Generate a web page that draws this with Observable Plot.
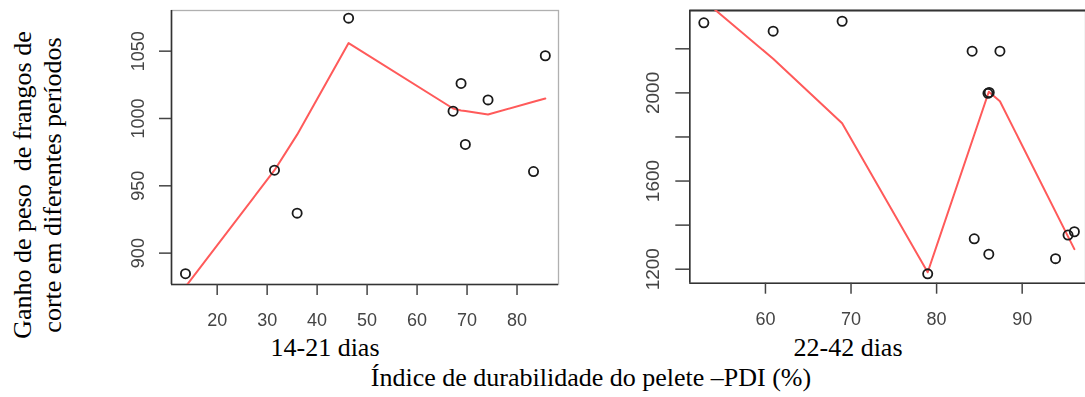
<!DOCTYPE html>
<html>
<head>
<meta charset="utf-8">
<script src="https://cdn.jsdelivr.net/npm/d3@7"></script>
<script src="https://cdn.jsdelivr.net/npm/@observablehq/plot@0.6"></script>
<style>
  body { margin: 0; background: #fff; width: 1085px; height: 397px; overflow: hidden; position: relative;
         font-family: "Liberation Serif", "Times New Roman", serif; }
  .panel { position: absolute; top: 0; }
  .panel svg { filter: blur(0.5px); }
  .cap { position: absolute; width: 500px; text-align: center; font-size: 26px; line-height: 30px;
         color: #000; white-space: pre; }
</style>
</head>
<body>
<div id="early" class="panel" style="left:100px"></div>
<div id="late" class="panel" style="left:620px"></div>
<div class="cap" style="left:-212px; top:155px; height:60px; transform:rotate(-90deg);">Ganho de peso  de frangos de
corte em diferentes períodos</div>
<div class="cap" style="left:75px; top:333px;">14-21 dias</div>
<div class="cap" style="left:598px; top:333px;">22-42 dias</div>
<div class="cap" style="left:341px; top:363px;">Índice de durabilidade do pelete –PDI (%)</div>

<script>
// 14-21 dias: PDI (%) vs weight gain, with the fitted curve
const pdiEarly  = [13.66, 31.47, 36.0, 46.3, 67.2, 68.8, 69.66, 74.2, 83.3, 85.66];
const gainEarly = [884.7, 961.6, 929.7, 1074.5, 1005.4, 1026, 980.7, 1013.8, 960.6, 1046.6];
const fitEarly  = [875, 961.6, 988, 1056, 1007.4, 1006, 1005.5, 1003, 1012.4, 1014.8];
const xTicksEarly = [20, 30, 40, 50, 60, 70, 80];
const yTicksEarly = [900, 950, 1000, 1050];

// 22-42 dias
const pdiLate  = [52.8, 60.9, 68.96, 78.96, 84.15, 84.4, 86.0, 86.15, 86.1, 87.4, 93.9, 95.36, 96.1];
const gainLate = [2318, 2280, 2325, 1179, 2189, 1338, 1998, 2002, 1268, 2189, 1248, 1355, 1370];
const fitLateX = [52.8, 60.9, 68.96, 78.96, 86.1, 87.4, 96.1];
const fitLateY = [2420, 2155, 1862, 1186, 2005, 1962, 1291];
const xTicksLate = [60, 70, 80, 90];
const yTicksLate = [1200, 1400, 1600, 1800, 2000, 2200];
const yLabelsLate = [1200, 1600, 2000];

const AXIS = "#444";
const RED = "#ff5a5a";

function panel({pts, fit, xDomain, yDomain, xTicks, yTicks, yFormat, m, width, ySize, yTick, yPad, darkTop}) {
  return Plot.plot({
    width, height: 340,
    marginLeft: m[0], marginRight: m[1], marginTop: m[2], marginBottom: m[3],
    x: {domain: xDomain},
    y: {domain: yDomain},
    style: {fontFamily: "'Liberation Sans', Arial, sans-serif", fontSize: "18px", color: AXIS,
            background: "transparent", overflow: "visible"},
    marks: [
      Plot.frame({stroke: "#b0b0b0", strokeWidth: 1.3}),
      Plot.ruleX([xDomain[0]], {stroke: "#333", strokeWidth: 1.6}),
      Plot.ruleY([yDomain[0]], {stroke: "#333", strokeWidth: 1.6}),
      darkTop ? Plot.ruleY([yDomain[1]], {stroke: "#333", strokeWidth: 2}) : null,
      Plot.axisX(xTicks, {tickSize: 11, tickPadding: 18, strokeWidth: 1.5, label: null,
                          fill: AXIS, stroke: AXIS, fontSize: 18}),
      Plot.axisY(yTicks, {tickSize: yTick, tickPadding: yPad, tickRotate: -90, strokeWidth: 1.5,
                          label: null, fill: AXIS, stroke: AXIS, fontSize: ySize, tickFormat: yFormat}),
      Plot.line(fit, {x: "x", y: "y", stroke: RED, strokeWidth: 2, clip: true}),
      Plot.dot(pts, {x: "x", y: "y", r: 4.6, stroke: "#1a1a1a", strokeWidth: 1.8, fill: "none"})
    ]
  });
}

const early = panel({
  pts: pdiEarly.map((x, i) => ({x, y: gainEarly[i]})),
  fit: pdiEarly.map((x, i) => ({x, y: fitEarly[i]})),
  xDomain: [10.86, 88.3], yDomain: [876.7, 1080.2],
  xTicks: xTicksEarly, yTicks: yTicksEarly, yFormat: d => String(d),
  m: [71, 12, 10, 56], width: 470, ySize: 18, yTick: 12, yPad: 16, darkTop: false
});
document.getElementById("early").append(early);

const late = panel({
  pts: pdiLate.map((x, i) => ({x, y: gainLate[i]})),
  fit: fitLateX.map((x, i) => ({x, y: fitLateY[i]})),
  xDomain: [51.16, 97.4], yDomain: [1136.5, 2373.8],
  xTicks: xTicksLate, yTicks: yTicksLate, yFormat: d => yLabelsLate.includes(d) ? String(d) : "",
  m: [69.3, 0, 10, 57.3], width: 465, ySize: 19, yTick: 14, yPad: 17, darkTop: true
});
document.getElementById("late").append(late);
</script>
</body>
</html>
